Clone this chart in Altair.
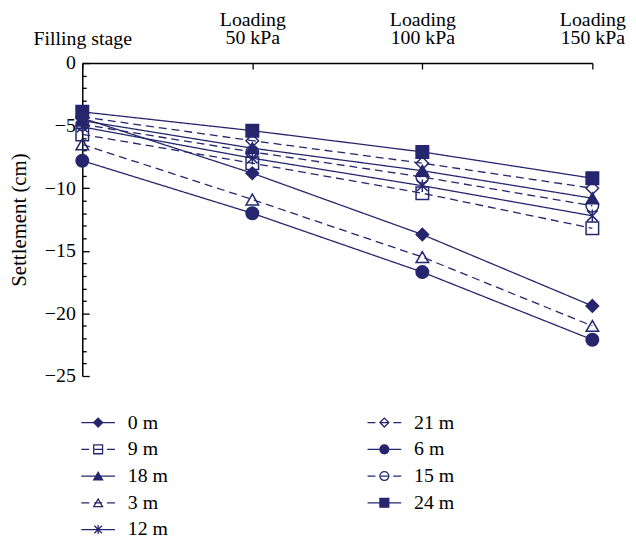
import json
import altair as alt
import pandas as pd

# ---- data ----
stages = [0, 1, 2, 3]
stage_labels = [["Filling stage"], ["Loading", "50 kPa"], ["Loading", "100 kPa"], ["Loading", "150 kPa"]]

depths = ["0 m", "9 m", "18 m", "3 m", "12 m", "21 m", "6 m", "15 m", "24 m"]
s_0m = [-4.4, -8.8, -13.7, -19.4]
s_9m = [-5.7, -8.0, -10.4, -13.2]
s_18m = [-4.6, -6.8, -8.6, -10.8]
s_3m = [-6.5, -10.9, -15.5, -21.0]
s_12m = [-5.1, -7.6, -9.8, -12.2]
s_21m = [-4.3, -6.2, -8.0, -10.0]
s_6m = [-7.8, -12.0, -16.7, -22.1]
s_15m = [-4.9, -7.1, -9.1, -11.4]
s_24m = [-3.9, -5.4, -7.1, -9.2]
series = [s_0m, s_9m, s_18m, s_3m, s_12m, s_21m, s_6m, s_15m, s_24m]

# ---- styles ----
NAVY = "#25266e"
FONT = "Liberation Serif"
ASTER = "M0,-1L0,1M-0.85,-0.85L0.85,0.85M-0.85,0.85L0.85,-0.85"
shapes = ["diamond", "square", "triangle-up", "triangle-up", ASTER,
          "diamond", "circle", "circle", "square"]
fills = [NAVY, "transparent", NAVY, "transparent", "transparent",
         "transparent", NAVY, "transparent", NAVY]
SOLID, DASHED = [1, 0], [8, 5]
dashes = [SOLID, DASHED, SOLID, DASHED, SOLID, DASHED, SOLID, DASHED, SOLID]

rows = []
for d, vals in zip(depths, series):
    for s, v in zip(stages, vals):
        rows.append({"depth": d, "stage": s, "value": v})
df = pd.DataFrame(rows)

leg_df = pd.DataFrame({
    "depth": depths,
    "col": [i // 5 for i in range(len(depths))],
    "row": [i % 5 for i in range(len(depths))],
})

shape_enc = alt.Shape("depth:N", scale=alt.Scale(domain=depths, range=shapes), legend=None)
fill_enc = alt.Fill("depth:N", scale=alt.Scale(domain=depths, range=fills), legend=None)
dash_enc = alt.StrokeDash("depth:N", scale=alt.Scale(domain=depths, range=dashes), legend=None)

x_scale = alt.Scale(domain=[0, 3], nice=False, zero=False)
y_scale = alt.Scale(domain=[-25, 0], nice=False)

x_axis = alt.Axis(
    orient="top", values=stages, title=None, grid=False,
    labelExpr=json.dumps(stage_labels) + "[datum.value]",
    labelFont=FONT, labelFontSize=20, labelColor="black", labelLineHeight=18,
    labelPadding={"expr": "datum.value === 0 ? 21 : 40"},
    labelFlush=False, labelAngle=0, labelOverlap=False,
    tickSize={"expr": "-6"}, tickColor="black", tickWidth=1.3,
    domainColor="black", domainWidth=1.5,
)
y_axis = alt.Axis(
    orient="left", values=list(range(-25, 1)), title="Settlement (cm)", grid=False,
    labelExpr="abs(datum.value % 5) < 0.01 ? datum.label : ''",
    labelFont=FONT, labelFontSize=20, labelColor="black", labelPadding=14,
    labelOverlap=False, labelSeparation=0, labelBound=False,
    tickSize={"expr": "abs(datum.value % 5) < 0.01 ? -7 : -4"}, tickColor="black", tickWidth=1.3,
    domainColor="black", domainWidth=1.5,
    titleFont=FONT, titleFontSize=21, titleFontWeight="normal", titleColor="black",
    titlePadding=15,
)

lines = alt.Chart(df).mark_line(color=NAVY, strokeWidth=1.3).encode(
    x=alt.X("stage:Q", scale=x_scale, axis=x_axis),
    y=alt.Y("value:Q", scale=y_scale, axis=y_axis),
    detail="depth:N",
    strokeDash=dash_enc,
)
points = alt.Chart(df).mark_point(size=160, strokeWidth=1.5, opacity=1, stroke=NAVY).encode(
    x=alt.X("stage:Q", scale=x_scale, axis=x_axis),
    y=alt.Y("value:Q", scale=y_scale, axis=y_axis),
    shape=shape_enc,
    fill=fill_enc,
)
main = alt.layer(lines, points)

leg_base = alt.Chart(leg_df).encode(
    x=alt.X("col:Q", scale=alt.Scale(domain=[0, 1], range=[16, 305]), axis=None),
    y=alt.Y("row:Q", scale=alt.Scale(domain=[0, 4], range=[363, 471]), axis=None),
)
leg_rules = leg_base.mark_rule(color=NAVY, strokeWidth=1.3, xOffset=-17, x2Offset=17).encode(
    x2="col:Q", strokeDash=dash_enc,
)
leg_points = leg_base.mark_point(size=80, strokeWidth=1.3, opacity=1, stroke=NAVY).encode(
    shape=shape_enc, fill=fill_enc,
)
leg_text = leg_base.mark_text(align="left", baseline="middle", dx=30, font=FONT,
                              fontSize=20, color="black").encode(text="depth:N")
legend = alt.layer(leg_rules, leg_points, leg_text)

chart = alt.layer(main, legend).resolve_scale(x="independent", y="independent").properties(
    width=515, height=316,
    autosize=alt.AutoSizeParams(type="none"),
    padding={"left": 75, "top": 53, "right": 36, "bottom": 164},
).configure(font=FONT, background="white").configure_view(stroke=None).configure_axis(
    labelOverlap=False
)

chart.save("out.html", embed_options={"renderer": "svg", "actions": False})
